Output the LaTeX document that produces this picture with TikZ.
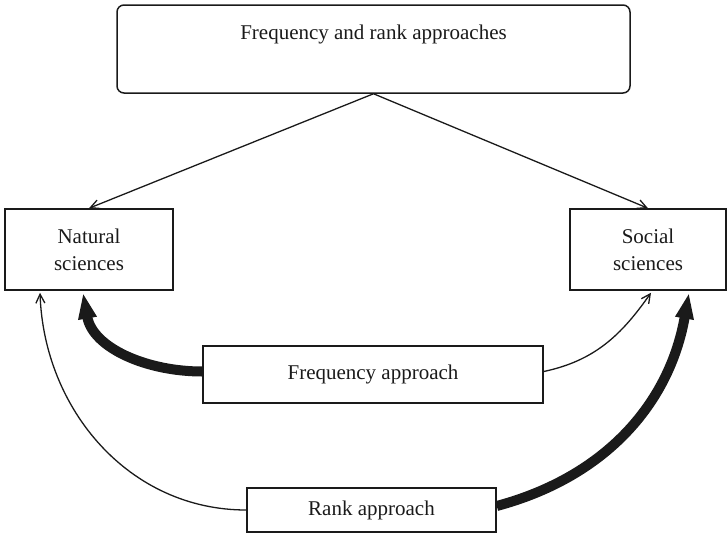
\documentclass[tikz,border=0pt]{standalone}
\usepackage{fontspec}
\setmainfont{Liberation Serif}
\usetikzlibrary{arrows.meta}
\definecolor{diagink}{HTML}{1A1A1A}

\begin{document}
\begin{tikzpicture}[x=1pt, y=1pt,
                    every node/.style={diagink, font=\fontsize{21}{27}\selectfont},
                    fieldbox/.style={draw=diagink, line width=1.5pt, align=center, inner sep=0pt},
                    thinarrow/.style={draw=diagink, line width=1.3pt, -{Straight Barb[length=9pt,width=9pt]}},
                    thickarrow/.style={draw=diagink, line width=10pt, -{Triangle[length=26pt,width=17pt]}}]

  %% page frame
  \useasboundingbox (0,0) rectangle (728,-536);

  %% the general box on top
  \node[fieldbox, rounded corners=7pt, minimum width=513pt,
        text height=34pt, text depth=54pt] (both) at (373.5,-49) {Frequency and rank approaches};

  %% the two fields
  \node[fieldbox, minimum width=168pt, minimum height=81pt] (natural) at (89,-249.5) {Natural\\sciences};
  \node[fieldbox, minimum width=156pt, minimum height=81pt] (social)  at (648,-249.5) {Social\\sciences};

  %% the two approaches
  \node[fieldbox, minimum width=340pt, minimum height=57pt] (freq) at (373,-374.5) {Frequency approach};
  \node[fieldbox, minimum width=249pt, minimum height=44pt] (rank) at (371.5,-510) {Rank approach};

  %% top box to both fields
  \draw[thinarrow] (both.south) -- (natural.north);
  \draw[thinarrow] (both.south) -- (social.north);

  %% frequency approach
  \draw[thickarrow] ([yshift=3pt]freq.west) to[out=180, in=-80] ([xshift=-6pt, yshift=-2pt]natural.south);
  \draw[thinarrow]  ([yshift=3pt]freq.east) to[out=12, in=-125] ([xshift=3pt, yshift=-2pt]social.south);

  %% rank approach
  \draw[thinarrow]  (rank.west) to[out=180, in=-88] ([xshift=-49pt, yshift=-2pt]natural.south);
  \draw[thickarrow] ([yshift=4pt]rank.east) to[out=15, in=-100] ([xshift=41pt, yshift=-2pt]social.south);

\end{tikzpicture}
\end{document}
